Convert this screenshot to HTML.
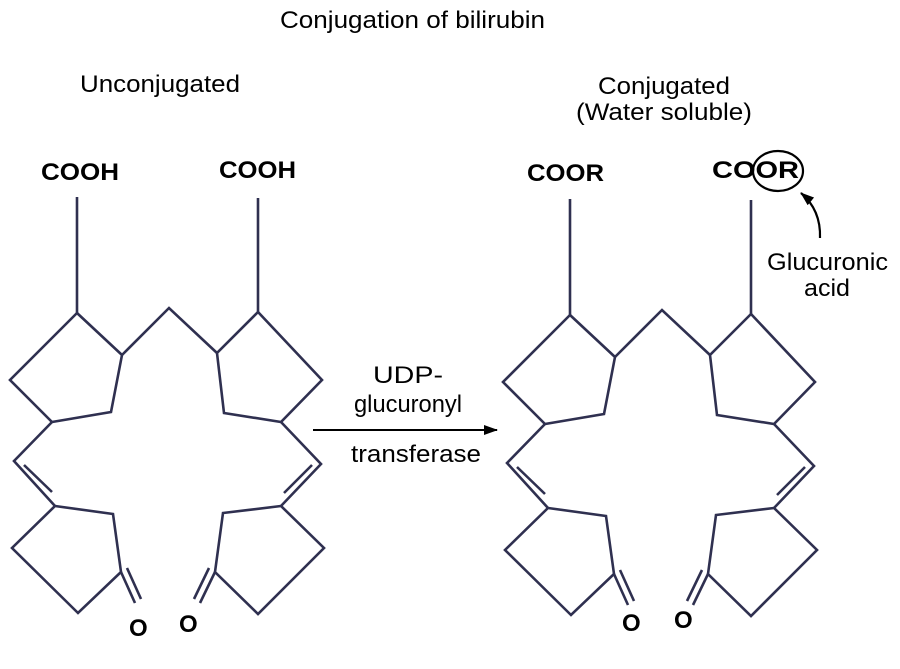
<!DOCTYPE html>
<html><head><meta charset="utf-8"><style>html,body{margin:0;padding:0;background:#fff}svg{display:block}</style></head>
<body>
<svg width="900" height="669" viewBox="0 0 900 669" xmlns="http://www.w3.org/2000/svg">
<defs>
<g id="mol" fill="none" stroke="#2f3050" stroke-width="2.6" stroke-linejoin="miter">
  <line x1="77" y1="197" x2="77" y2="313"/>
  <polygon points="77,313 122,355 111,412 52,422 10,380"/>
  <polyline points="122,355 169,308 217,353"/>
  <line x1="258" y1="198" x2="258" y2="312"/>
  <polygon points="258,312 217,353 224,413 281,422 322,380"/>
  <polyline points="52,422 14,461 55,506"/>
  <line x1="24" y1="465" x2="52" y2="492"/>
  <polygon points="55,506 113,514 121,572 78,613 12,548"/>
  <line x1="121" y1="572" x2="135" y2="603"/>
  <line x1="127" y1="568" x2="141" y2="599"/>
  <polyline points="281,422 321,464 281,506"/>
  <line x1="312" y1="465" x2="284" y2="493"/>
  <polygon points="281,506 223,513 215,572 258,614 324,548"/>
  <line x1="215" y1="572" x2="200" y2="603"/>
  <line x1="209" y1="568" x2="194" y2="599"/>
</g>
<marker id="ah" markerWidth="14" markerHeight="10" refX="13" refY="5" orient="auto" markerUnits="userSpaceOnUse">
  <path d="M0,0 L14,5 L0,10 z" fill="#000"/>
</marker>
</defs>
<use href="#mol"/>
<use href="#mol" transform="translate(493,2)"/>
<g font-family="Liberation Sans, Arial, sans-serif" fill="#000">
  <text x="280" y="28" font-size="24" textLength="265" lengthAdjust="spacingAndGlyphs">Conjugation of bilirubin</text>
  <text x="80" y="92" font-size="24" textLength="160" lengthAdjust="spacingAndGlyphs">Unconjugated</text>
  <text x="598" y="94" font-size="24" textLength="132" lengthAdjust="spacingAndGlyphs">Conjugated</text>
  <text x="576" y="120" font-size="24" textLength="176" lengthAdjust="spacingAndGlyphs">(Water soluble)</text>
  <g font-weight="bold" font-size="24">
    <text x="41" y="180" textLength="78" lengthAdjust="spacingAndGlyphs">COOH</text>
    <text x="219" y="178" textLength="77" lengthAdjust="spacingAndGlyphs">COOH</text>
    <text x="527" y="181" textLength="77" lengthAdjust="spacingAndGlyphs">COOR</text>
    <text x="712" y="178" textLength="87" lengthAdjust="spacingAndGlyphs">COOR</text>
    <text x="129" y="636">O</text>
    <text x="179" y="632">O</text>
    <text x="622" y="631">O</text>
    <text x="674" y="628">O</text>
  </g>
  <text x="373" y="383" font-size="24" textLength="70" lengthAdjust="spacingAndGlyphs">UDP-</text>
  <text x="354" y="412" font-size="24" textLength="108" lengthAdjust="spacingAndGlyphs">glucuronyl</text>
  <text x="351" y="462" font-size="24" textLength="130" lengthAdjust="spacingAndGlyphs">transferase</text>
  <text x="767" y="270" font-size="24" textLength="121" lengthAdjust="spacingAndGlyphs">Glucuronic</text>
  <text x="804" y="296" font-size="24" textLength="46" lengthAdjust="spacingAndGlyphs">acid</text>
</g>
<line x1="313" y1="430" x2="497" y2="430" stroke="#000" stroke-width="2" marker-end="url(#ah)"/>
<ellipse cx="778" cy="171" rx="25" ry="20" fill="none" stroke="#000" stroke-width="2.2"/>
<path d="M820,238 Q821,210 801,193" fill="none" stroke="#000" stroke-width="2.2" marker-end="url(#ah)"/>
</svg>
</body></html>
